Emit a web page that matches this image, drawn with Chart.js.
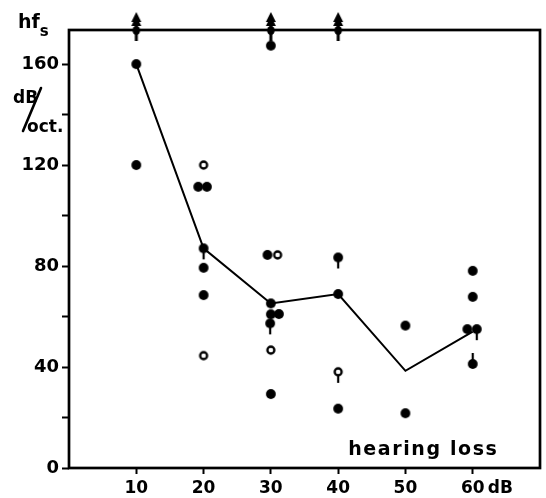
<!DOCTYPE html>
<html>
<head>
<meta charset="utf-8">
<script src="https://cdn.jsdelivr.net/npm/chart.js@4/dist/chart.umd.min.js"></script>
<style>
  html, body { margin: 0; padding: 0; background: #fff; }
  canvas { display: block; }
</style>
</head>
<body>
<canvas id="c" width="546" height="498"></canvas>
<script>
// Slope of the high-frequency flank (dB/oct.) against hearing loss (dB)

// individual ears, filled symbols
const filledX = [10, 10, 30, 19.2, 20.5, 20, 20, 20, 29.5, 30, 30, 31.2, 29.9, 30, 40, 40, 40, 50, 50, 59.2, 60.6, 60, 60, 60];
const filledY = [160, 120, 167.3, 111.4, 111.4, 87, 79.3, 68.5, 84.4, 65.2, 60.9, 61, 57.3, 29.3, 83.4, 68.9, 23.5, 56.4, 21.7, 55, 55, 41.2, 78.1, 67.8];
// tail on the symbol: -1 downwards, 1 upwards, 0 none
const filledTail = [0, 0, 0, 0, 0, -1, 0, 0, 0, 0, 0, 0, -1, 0, -1, 0, 0, 0, 0, 0, -1, 1, 0, 0];

// individual ears, open symbols
const openX = [20, 20, 31, 30, 40];
const openY = [120, 44.5, 84.4, 46.7, 38.1];
const openTail = [0, 0, 0, 0, -1];

// values beyond the top of the scale
const aboveX = [10, 30, 40];

// median course
const medianX = [10, 20, 30, 40, 50, 60];
const medianY = [160, 87, 65.2, 68.9, 38.5, 54];

// axes
const xTicks = [10, 20, 30, 40, 50, 60];
const yTicks = [0, 20, 40, 60, 80, 100, 120, 140, 160];
const yLabelEvery = 40;
const xMax = 70;
const yMax = 173.5;

const FONT = '"DejaVu Sans", sans-serif';

// symbol sprites
function symbol(open, tail) {
  const c = document.createElement('canvas');
  c.width = 16; c.height = 34;
  const g = c.getContext('2d');
  const cx = 8, cy = 17;
  if (tail) {
    g.strokeStyle = '#000'; g.lineWidth = 2.2;
    g.beginPath(); g.moveTo(cx, cy); g.lineTo(cx, cy - tail * 11); g.stroke();
  }
  g.beginPath();
  if (open) {
    g.arc(cx, cy, 3.5, 0, Math.PI * 2);
    g.fillStyle = '#fff'; g.fill();
    g.lineWidth = 2.3; g.strokeStyle = '#000'; g.stroke();
  } else {
    g.arc(cx, cy, 4.9, 0, Math.PI * 2);
    g.fillStyle = '#000'; g.fill();
  }
  return c;
}
const filledSym = { '-1': symbol(false, -1), '0': symbol(false, 0), '1': symbol(false, 1) };
const openSym = { '-1': symbol(true, -1), '0': symbol(true, 0), '1': symbol(true, 1) };

// upward arrow marking values off the scale
function arrow() {
  const c = document.createElement('canvas');
  c.width = 16; c.height = 60;
  const g = c.getContext('2d');
  const cx = 8;
  g.fillStyle = '#000';
  g.beginPath(); g.moveTo(cx, 12); g.lineTo(cx - 5, 22); g.lineTo(cx + 5, 22); g.closePath(); g.fill();
  g.beginPath(); g.moveTo(cx, 16); g.lineTo(cx - 5, 26); g.lineTo(cx + 5, 26); g.closePath(); g.fill();
  g.fillRect(cx - 1.5, 20, 3, 21);
  g.beginPath(); g.ellipse(cx, 30.5, 3.8, 4.5, 0, 0, Math.PI * 2); g.fill();
  return c;
}
const arrowSym = arrow();

const pts = (xs, ys) => xs.map((x, i) => ({ x, y: ys[i] }));

const frameAndText = {
  id: 'frameAndText',
  beforeDatasetsDraw(chart) {
    const { ctx, chartArea: a } = chart;
    ctx.save();
    ctx.strokeStyle = '#000';
    ctx.lineWidth = 2.7;
    ctx.strokeRect(a.left, a.top, a.right - a.left, a.bottom - a.top);
    ctx.restore();
  },
  afterDraw(chart) {
    const { ctx, scales: { x, y } } = chart;
    ctx.save();
    ctx.fillStyle = '#000';
    ctx.strokeStyle = '#000';
    ctx.textBaseline = 'alphabetic';
    ctx.textAlign = 'left';
    // axis title
    ctx.font = 'bold 19px ' + FONT;
    ctx.fillText('hf', 18, 28);
    const w = ctx.measureText('hf').width;
    ctx.font = 'bold 15px ' + FONT;
    ctx.fillText('s', 18 + w, 36);
    ctx.font = 'bold 17px ' + FONT;
    ctx.fillText('dB', 13, 103);
    ctx.fillText('oct.', 27, 132);
    ctx.lineWidth = 2.6;
    ctx.lineCap = 'round';
    ctx.beginPath(); ctx.moveTo(41, 88); ctx.lineTo(23, 131); ctx.stroke();
    // unit after the last x label
    ctx.font = 'bold 17px ' + FONT;
    ctx.textBaseline = 'middle';
    ctx.fillText('dB', x.getPixelForValue(60) + 15, 489);
    // x axis title inside the plot
    ctx.textBaseline = 'alphabetic';
    ctx.font = 'bold 19px ' + FONT;
    ctx.letterSpacing = '1.6px';
    ctx.fillText('hearing loss', x.getPixelForValue(41.5), y.getPixelForValue(5));
    ctx.restore();
  }
};

new Chart(document.getElementById('c'), {
  type: 'scatter',
  data: {
    datasets: [
      {
        data: pts(aboveX, aboveX.map(() => yMax)),
        pointStyle: arrowSym,
        pointRadius: 5,
        clip: false
      },
      {
        data: pts(filledX, filledY),
        pointStyle: c => filledSym[String(filledTail[c.dataIndex] ?? 0)],
        pointRadius: 5,
        clip: false
      },
      {
        data: pts(openX, openY),
        pointStyle: c => openSym[String(openTail[c.dataIndex] ?? 0)],
        pointRadius: 5,
        clip: false
      },
      {
        type: 'line',
        data: pts(medianX, medianY),
        borderColor: '#000',
        borderWidth: 2,
        pointRadius: 0,
        fill: false,
        tension: 0
      }
    ]
  },
  options: {
    responsive: false,
    animation: false,
    events: [],
    layout: { padding: { top: 30, right: 5, left: 0, bottom: 0 } },
    plugins: { legend: { display: false }, tooltip: { enabled: false } },
    scales: {
      x: {
        type: 'linear',
        min: 0,
        max: xMax,
        afterBuildTicks: s => { s.ticks = xTicks.map(v => ({ value: v })); },
        afterFit: s => { s.height = 30; },
        border: { display: false },
        grid: { drawOnChartArea: false, drawTicks: true, tickLength: 6, tickColor: '#000', tickWidth: 2 },
        ticks: { color: '#000', font: { family: FONT, size: 17, weight: 'bold' }, padding: 4, maxRotation: 0, autoSkip: false }
      },
      y: {
        type: 'linear',
        min: 0,
        max: yMax,
        afterBuildTicks: s => { s.ticks = yTicks.map(v => ({ value: v })); },
        afterFit: s => { s.width = 69; },
        border: { display: false },
        grid: { drawOnChartArea: false, drawTicks: true, tickLength: 7, tickColor: '#000', tickWidth: 2 },
        ticks: {
          color: '#000',
          font: { family: FONT, size: 18, weight: 'bold' },
          padding: 3,
          autoSkip: false,
          callback: v => (v % yLabelEvery === 0 ? String(v) : '')
        }
      }
    }
  },
  plugins: [frameAndText]
});
</script>
</body>
</html>
